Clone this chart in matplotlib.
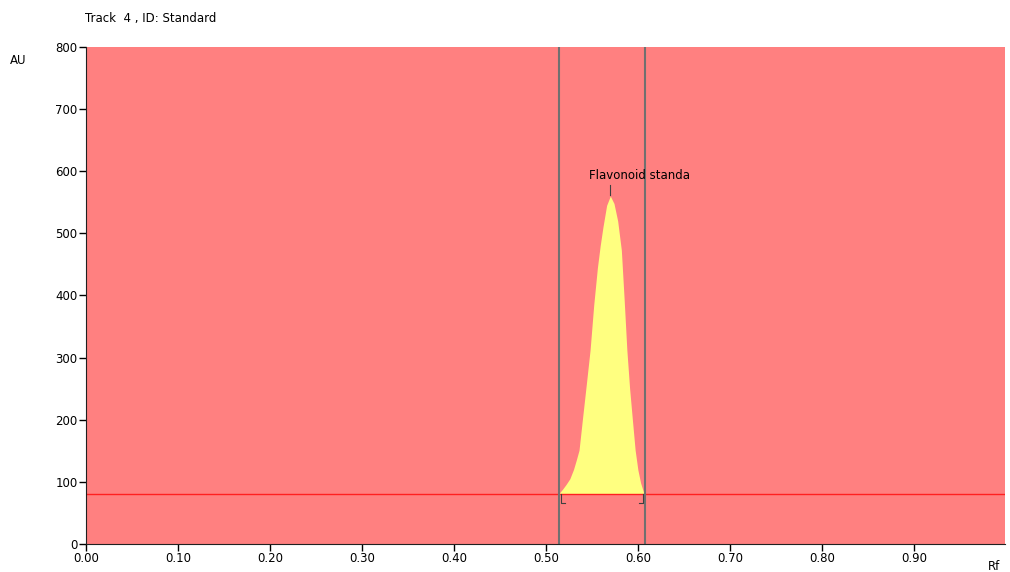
import matplotlib.pyplot as plt
import numpy as np

plt.rcParams["font.family"] = ["DejaVu Sans"]

TITLE = "Track  4 , ID: Standard"
PEAK_NAME = "Flavonoid standa"

# densitogram of the peak (Rf, AU)
rf = [0.514, 0.518, 0.522, 0.526, 0.530, 0.533, 0.536, 0.540, 0.544, 0.548,
      0.552, 0.556, 0.559, 0.562, 0.566, 0.570, 0.574, 0.578, 0.582, 0.585,
      0.588, 0.591, 0.594, 0.597, 0.600, 0.603, 0.606, 0.608]
au = [81, 88, 96, 105, 120, 135, 151, 205, 258, 312,
      385, 445, 480, 510, 545, 560, 548, 520, 473, 395,
      312, 250, 200, 151, 119, 98, 84, 81]

baseline = 81
peak_start, peak_end = 0.514, 0.608
x_ticks = [0.0, 0.1, 0.2, 0.3, 0.4, 0.5, 0.6, 0.7, 0.8, 0.9]
y_ticks = [0, 100, 200, 300, 400, 500, 600, 700, 800]

fig = plt.figure(figsize=(10.1, 5.72), dpi=100)
ax = fig.add_axes([0.0851, 0.049, 0.9099, 0.869])
ax.set_facecolor("#FF8080")

ax.fill_between(rf, baseline, au, color="#FFFF80", linewidth=0)
ax.axhline(baseline, color="#FF2020", lw=1)
ax.axvline(peak_start, color="#707070", lw=1.5)
ax.axvline(peak_end, color="#707070", lw=1.5)

# small bracket marks at peak start / end
ax.plot([rf[0] + 0.002, rf[0] + 0.002, rf[0] + 0.007],
        [baseline, baseline - 15, baseline - 15], color="#404040", lw=0.8)
ax.plot([rf[-1] - 0.002, rf[-1] - 0.002, rf[-1] - 0.007],
        [baseline, baseline - 15, baseline - 15], color="#404040", lw=0.8)

# peak label
i_max = int(np.argmax(au))
ax.plot([rf[i_max], rf[i_max]], [au[i_max] + 2, au[i_max] + 18], color="#404040", lw=0.8)
ax.text(rf[i_max] - 0.023, au[i_max] + 22, PEAK_NAME, fontsize=8.5, va="bottom", ha="left")

ax.set_xlim(0, 0.999)
ax.set_ylim(0, 800)
ax.set_xticks(x_ticks)
ax.set_xticklabels([f"{t:.2f}" for t in x_ticks])
ax.set_yticks(y_ticks)
ax.tick_params(labelsize=8.5, length=5, width=1, direction="out", pad=1)
for side in ["top", "right"]:
    ax.spines[side].set_visible(False)
ax.spines["left"].set_color("#202020")
ax.spines["bottom"].set_color("#202020")

fig.text(0.084, 0.968, TITLE, fontsize=8.5, ha="left", va="center")
fig.text(0.010, 0.895, "AU", fontsize=8.5, ha="left", va="center")
fig.text(0.978, 0.010, "Rf", fontsize=8.5, ha="left", va="center")

fig.savefig("out.png", dpi=100)
